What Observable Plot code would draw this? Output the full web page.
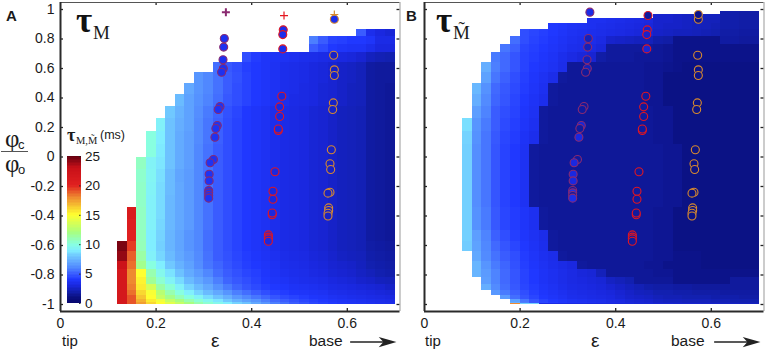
<!DOCTYPE html>
<html>
<head>
<meta charset="utf-8">
<script src="https://cdn.jsdelivr.net/npm/d3@7"></script>
<script src="https://cdn.jsdelivr.net/npm/@observablehq/plot@0.6"></script>
<style>
html,body{margin:0;padding:0;background:#fff}
#wrap{position:relative;width:765px;height:350px;overflow:hidden;background:#fff}
#wrap>div.p{position:absolute;top:0}
.t{position:absolute;white-space:nowrap;line-height:1;color:#1a1a1a;font-family:"Liberation Sans",sans-serif}
.s{font-family:"Liberation Serif",serif}
</style>
</head>
<body>
<div id="wrap">
  <div class="p" id="panelA" style="left:0"></div>
  <div class="p" id="panelB" style="left:364px"></div>
  <div class="p" id="bar" style="left:50px;top:148px"></div>

  <div class="t" style="left:6px;top:8px;font-size:15px;font-weight:bold">A</div>
  <div class="t" style="left:406px;top:8px;font-size:15px;font-weight:bold">B</div>

  <div class="t s" style="left:76px;top:3px;font-size:35px;font-weight:bold;color:#111">τ</div>
  <div class="t s" style="left:93px;top:23px;font-size:19px">M</div>
  <div class="t s" style="left:436px;top:3px;font-size:35px;font-weight:bold;color:#111">τ</div>
  <div class="t s" style="left:453px;top:23px;font-size:19px">M&#771;</div>

  <div class="t s" style="left:5px;top:126px;font-size:25px">φ</div>
  <div class="t" style="left:18px;top:138px;font-size:13px">c</div>
  <div style="position:absolute;left:1px;top:150.5px;width:27px;height:1px;background:#555"></div>
  <div class="t s" style="left:5px;top:151px;font-size:25px">φ</div>
  <div class="t" style="left:18px;top:163px;font-size:13px">o</div>

  <div class="t s" style="left:67px;top:126px;font-size:18px;font-weight:bold">τ</div>
  <div class="t s" style="left:76px;top:136px;font-size:10.5px">M,M&#771;</div>
  <div class="t" style="left:100px;top:129px;font-size:12.5px">(ms)</div>

  <div class="t" style="left:62px;top:333px;font-size:15px">tip</div>
  <div class="t" style="left:425px;top:333px;font-size:15px">tip</div>
  <div class="t" style="left:211px;top:331px;font-size:19px">ε</div>
  <div class="t" style="left:591px;top:331px;font-size:19px">ε</div>
  <div class="t" style="left:309px;top:333px;font-size:15.5px">base</div>
  <div class="t" style="left:671px;top:333px;font-size:15.5px">base</div>
</div>
<script>
// Cell boundaries
const xEdges = [0.08,0.10,0.12,0.14,0.16,0.18,0.20,0.22,0.24,0.26,0.28,0.30,0.32,0.34,0.36,0.38,0.40,0.42,0.44,0.46,0.48,0.50,0.52,0.54,0.56,0.58,0.60,0.62,0.64,0.66,0.68,0.70];

// Panel A: each row lists its cells up to the right edge, ms
const rowEdgesA = [0.866,0.819,0.766,0.707,0.643,0.574,0.5,0.423,0.342,0.259,0.173,0.087,0,-0.087,-0.173,-0.259,-0.342,-0.423,-0.5,-0.574,-0.643,-0.707,-0.766,-0.819,-0.866,-0.906,-0.94,-0.966,-0.985,-0.995,-1.003];
const tauM = [
[5,3.4,3,2.8],
[5.8,5,4.3,4.2,4,4,3.8,3.2,3.2],
[5,4.5,4,3.8,3.7,3.7,3.4,3,3],
[4.6,4.1,3.8,3.7,3.6,3.5,3.4,3.3,3.2,3.1,3,2.9,2.7,2.3,2.1,2],
[5.4,4.9,4.6,4.2,4,3.8,3.6,3.4,3.3,3.2,3,2.9,2.7,2.5,2.4,2.2,1.7,1.6,1.6],
[6.4,6,5.5,5,4.7,4.3,4,3.8,3.6,3.4,3.3,3.2,3,2.9,2.7,2.5,2.4,2.2,1.7,1.6,1.6],
[7,6.4,6,5.5,5,4.6,4.3,4,3.8,3.6,3.4,3.3,3.1,3,2.8,2.7,2.5,2.3,2.2,1.7,1.6,1.5],
[7.6,6.8,6.3,5.9,5.4,4.9,4.6,4.3,4,3.8,3.6,3.4,3.2,3.1,3,2.8,2.7,2.5,2.3,2.2,1.7,1.6,1.5],
[8,7.3,6.8,6.2,5.7,5.2,4.7,4.4,4,3.8,3.6,3.4,3.2,3.1,3,2.8,2.7,2.5,2.3,2.2,2.1,1.7,1.6,1.5],
[9.2,7.8,7.2,6.8,6.1,5.6,5.1,4.6,4.3,4,3.8,3.6,3.4,3.2,3.1,3,2.8,2.7,2.5,2.3,2.2,2.1,1.7,1.6,1.5],
[10,9,7.8,7.1,6.7,6.1,5.6,5.1,4.6,4.3,4,3.8,3.6,3.4,3.2,3.1,3,2.8,2.7,2.5,2.3,2.2,2.1,1.7,1.6,1.5],
[10,8.9,7.8,7.1,6.7,6,5.5,5,4.6,4.3,4,3.8,3.6,3.4,3.2,3.1,3,2.8,2.7,2.5,2.3,2.2,2.1,1.7,1.6,1.5],
[10.6,9.3,8.8,7.8,7.1,6.7,6,5.5,5,4.6,4.3,4,3.8,3.6,3.4,3.2,3.1,3,2.8,2.7,2.5,2.3,2.2,2.1,1.7,1.6,1.5],
[10.4,9.4,8.6,7.6,6.9,6.6,6,5.5,5,4.6,4.3,4,3.8,3.6,3.4,3.2,3.1,3,2.8,2.7,2.5,2.3,2.2,2.1,1.7,1.6,1.5],
[10.5,9.3,8.5,7.6,7,6.6,6,5.5,5,4.6,4.3,4,3.8,3.6,3.4,3.2,3.1,3,2.8,2.7,2.5,2.3,2.2,2.1,1.7,1.6,1.5],
[10.5,9.2,8.5,7.5,7,6.6,6,5.5,5,4.6,4.3,4,3.8,3.6,3.4,3.2,3.1,3,2.8,2.7,2.5,2.3,2.2,2.1,1.7,1.6,1.5],
[21,10.6,9.2,8.5,7.5,7,6.6,6,5.5,5,4.6,4.3,4,3.8,3.6,3.4,3.2,3.1,3,2.8,2.7,2.5,2.3,2.2,2.1,1.7,1.6,1.5],
[20.5,10.6,9.2,8.4,7.5,7,6.6,6,5.5,5,4.6,4.3,4,3.8,3.6,3.4,3.2,3.1,3,2.8,2.7,2.5,2.3,2.2,2.1,1.7,1.6,1.5],
[20,10.7,9,8.3,7.4,6.9,6.4,6,5.4,5,4.6,4.3,4,3.8,3.6,3.4,3.2,3.1,3,2.8,2.7,2.5,2.3,2.2,2.1,1.7,1.6,1.5],
[24.5,19.5,10.8,9,8.2,7.4,6.9,6.4,6,5.4,5,4.6,4.3,4,3.8,3.6,3.4,3.2,3.1,3,2.8,2.7,2.5,2.3,2.2,2.1,1.8,1.7,1.6],
[24,18.8,11.2,9.2,8.4,7.6,7,6.6,6.1,5.5,5,4.7,4.4,4.1,3.9,3.7,3.5,3.3,3.2,3.1,2.9,2.8,2.6,2.4,2.3,2.2,1.9,1.8,1.7],
[22.5,18.5,11.7,10,9,8,7.3,6.8,6.2,5.6,5.2,4.8,4.5,4.2,4,3.8,3.6,3.4,3.3,3.2,3,2.9,2.7,2.6,2.5,2.3,2,1.9,1.8],
[21.5,18,15,11,9.6,8.7,7.8,7.1,6.6,6,5.4,5,4.7,4.4,4.2,3.9,3.7,3.5,3.4,3.3,3.1,3,2.8,2.7,2.6,2.4,2.2,2,1.9],
[21.5,18,15.3,11.5,10.3,9.3,8.5,7.6,7,6.5,5.8,5.2,4.9,4.6,4.3,4,3.8,3.7,3.5,3.4,3.3,3.2,3,2.9,2.8,2.6,2.5,2.3,2.2],
[21.5,18.2,15.5,13.5,11.2,10.2,9.2,8.3,7.6,7,6.3,5.7,5.2,4.8,4.5,4.2,4,3.9,3.7,3.6,3.5,3.4,3.2,3.1,3,2.9,2.8,2.7,2.5],
[21.5,18.5,16,14.8,12.5,11,10,9.1,8.3,7.6,7,6.4,5.8,5.4,5,4.6,4.3,4.1,3.9,3.8,3.7,3.6,3.4,3.3,3.2,3.1,3,2.9,2.8],
[21.5,19,16.5,15,13,11.8,10.8,10,9.3,8.5,7.8,7.2,6.5,6,5.6,5.2,4.8,4.5,4.3,4.1,3.9,3.8,3.6,3.5,3.4,3.3,3.2,3.1,3],
[21.5,19,17,15.5,14.5,13,12,11,10.2,9.5,8.8,8,7.3,6.8,6.4,5.8,5.3,5,4.7,4.4,4.2,4,3.8,3.7,3.6,3.5,3.4,3.3,3.2],
[21.5,19,17.5,16,15,14,13,12,11,10.3,9.6,9,8.3,7.8,7,6.4,5.8,5.4,5,4.7,4.4,4.2,4,3.8,3.7,3.6,3.5,3.4,3.3],
[21.5,19,17.5,16,15,14,13,12,11,10.3,9.6,9,8.3,7.8,7,6.4,5.8,5.4,5,4.7,4.4,4.2,4,3.8,3.7,3.6,3.5,3.4,3.3]
];

// Panel B: same layout, ms
const rowEdgesB = [0.985,0.966,0.94,0.906,0.866,0.819,0.766,0.707,0.643,0.574,0.5,0.423,0.342,0.259,0.173,0.087,0,-0.087,-0.173,-0.259,-0.342,-0.423,-0.5,-0.574,-0.643,-0.707,-0.766,-0.819,-0.866,-0.906,-0.94,-0.966,-0.985,-0.995,-1.003];
const tauMtilde = [
[1.9,1.9,1.8,1.8],
[2.6,2.6,2.5,2.4,2.4,2.3,2.3,1.9,1.9,1.8,1.8],
[3.5,3.5,3.4,3.3,3.2,3.1,3,2.6,2.6,2.5,2.4,2.3,2.2,2.2,1.9,1.9,1.8,1.8],
[4,3.9,3.7,3.6,3.5,3.4,3.3,3.2,3.1,3,2.9,2.6,2.5,2.5,2.4,2.3,2.2,2.1,1.9,1.9,1.8,1.8],
[4.6,4.4,4.2,4,3.8,3.6,3.5,3.4,3.3,3.2,3.1,3,2.9,2.8,2.5,2.4,2.3,2.3,2.2,2.1,2,1.8,1.8,1.7,1.7],
[5.4,4.6,4.3,4.1,3.9,3.7,3.5,3.4,3.3,3.1,2.6,2.5,2.4,2.3,2.2,1.9,1.8,1.2,1.2,1.2,1.2,1.2,1.7,1.7,1.6,1.6],
[5.6,5.1,4.4,4.2,4,3.8,3.6,3.4,3.3,3.1,2.9,1.6,1.6,1.6,1.6,1.6,1.5,1.4,1.2,1.2,1.2,1.2,1.2,1.2,1.2,1.2,1.2],
[5.7,5.3,4.8,4.3,4.1,3.9,3.7,3.4,3.1,2.9,2.7,1.8,1.6,1.6,1.6,1.5,1.5,1.5,1.4,1.2,1.2,1.2,1.2,1.2,1.2,1.2,1.2,1.2],
[7.2,5.8,5.3,4.8,4.3,4,3.8,3.6,3.3,1.5,1.5,1.5,1.5,1.5,1.5,1.5,1.5,1.4,1.4,1.3,1.2,1.1,1.1,1.1,1.1,1.1,1.1,1.1,1.1],
[6.8,5.6,5.1,4.6,4.2,3.9,3.6,3.3,1.6,1.5,1.5,1.5,1.5,1.5,1.5,1.5,1.5,1.4,1.4,1.1,1.1,1.1,1.1,1.1,1.1,1.1,1.1,1.1,1.1],
[7.5,6.3,5.3,4.9,4.5,4.1,3.8,3.5,1.6,1.5,1.5,1.5,1.5,1.5,1.5,1.5,1.5,1.5,1.4,1.4,1.1,1.1,1.1,1.1,1.1,1.1,1.1,1.1,1.1,1.1],
[7.2,6.1,5.2,4.8,4.4,4,3.7,3.4,1.6,1.5,1.5,1.5,1.5,1.5,1.5,1.5,1.5,1.5,1.4,1.4,1.1,1.1,1.1,1.1,1.1,1.1,1.1,1.1,1.1,1.1],
[6.7,5.9,5,4.6,4.3,3.9,3.6,1.6,1.5,1.5,1.5,1.5,1.5,1.5,1.5,1.5,1.5,1.5,1.5,1.4,1.4,1.1,1.1,1.1,1.1,1.1,1.1,1.1,1.1,1.1],
[8.6,6.4,5.7,5,4.5,4.2,3.8,3.5,1.6,1.5,1.5,1.5,1.5,1.5,1.5,1.5,1.5,1.5,1.5,1.5,1.4,1.4,1.1,1.1,1.1,1.1,1.1,1.1,1.1,1.1,1.1],
[8.3,6.3,5.6,4.9,4.4,4.1,3.7,3.4,1.6,1.5,1.5,1.5,1.5,1.5,1.5,1.5,1.5,1.5,1.5,1.5,1.4,1.4,1.1,1.1,1.1,1.1,1.1,1.1,1.1,1.1,1.1],
[8.2,6.2,5.6,4.8,4.3,4,3.6,1.6,1.5,1.5,1.5,1.5,1.5,1.5,1.5,1.5,1.5,1.5,1.5,1.5,1.5,1.4,1.4,1.1,1.1,1.1,1.1,1.1,1.1,1.1,1.1],
[8.2,6.2,5.6,4.8,4.3,4,3.6,1.6,1.5,1.5,1.5,1.5,1.5,1.5,1.5,1.5,1.5,1.5,1.5,1.5,1.5,1.4,1.4,1.1,1.1,1.1,1.1,1.1,1.1,1.1,1.1],
[8.2,6.2,5.6,4.8,4.3,4,3.6,1.6,1.5,1.5,1.5,1.5,1.5,1.5,1.5,1.5,1.5,1.5,1.5,1.5,1.5,1.4,1.4,1.1,1.1,1.1,1.1,1.1,1.1,1.1,1.1],
[8.2,6.2,5.6,4.8,4.3,4,3.6,1.6,1.5,1.5,1.5,1.5,1.5,1.5,1.5,1.5,1.5,1.5,1.5,1.5,1.5,1.4,1.4,1.1,1.1,1.1,1.1,1.1,1.1,1.1,1.1],
[8.2,6.2,5.6,4.8,4.3,4,3.6,1.6,1.5,1.5,1.5,1.5,1.5,1.5,1.5,1.5,1.5,1.5,1.5,1.5,1.5,1.4,1.4,1.1,1.1,1.1,1.1,1.1,1.1,1.1,1.1],
[8.2,6.3,5.7,4.9,4.4,4.1,3.8,3.5,1.6,1.5,1.5,1.5,1.5,1.5,1.5,1.5,1.5,1.5,1.5,1.5,1.4,1.4,1.1,1.1,1.1,1.1,1.1,1.1,1.1,1.1,1.1],
[8.2,6.3,5.7,4.9,4.4,4.1,3.8,3.5,1.6,1.5,1.5,1.5,1.5,1.5,1.5,1.5,1.5,1.5,1.5,1.5,1.4,1.4,1.1,1.1,1.1,1.1,1.1,1.1,1.1,1.1,1.1],
[8.2,6.7,5.9,5.1,4.6,4.2,3.9,3.6,3.3,1.6,1.5,1.5,1.5,1.5,1.5,1.5,1.5,1.5,1.5,1.5,1.4,1.4,1.1,1.1,1.1,1.1,1.1,1.1,1.1,1.1,1.1],
[8.1,6.8,6,5.3,4.8,4.4,4,3.7,3.4,1.6,1.5,1.5,1.5,1.5,1.5,1.5,1.5,1.5,1.5,1.5,1.4,1.4,1.1,1.1,1.1,1.1,1.1,1.1,1.1,1.1,1.1],
[7,6.1,5.5,5,4.6,4.1,3.8,3.5,3.3,1.6,1.5,1.5,1.5,1.5,1.5,1.5,1.5,1.5,1.5,1.4,1.4,1.2,1.2,1.2,1.1,1.1,1.1,1.1,1.1,1.1],
[7.4,6.4,5.7,5.2,4.7,4.2,3.9,3.6,3.4,3.2,3,1.6,1.5,1.5,1.5,1.5,1.5,1.5,1.4,1.4,1.2,1.2,1.2,1.2,1.1,1.1,1.1,1.1,1.1,1.1],
[7.4,6.6,5.9,5.3,4.8,4.3,4,3.7,3.5,3.3,3.1,2.9,2.8,2.2,1.5,1.5,1.5,1.5,1.5,1.4,1.4,1.2,1.2,1.2,1.2,1.2,1.2,1.2,1.2,1.2],
[6.7,5.9,5.3,4.8,4.3,4,3.7,3.5,3.3,3.1,3,2.9,2.8,2.4,2.2,2,1.5,1.5,1.5,1.5,1.2,1.2,1.2,1.2,1.2,1.2,1.6,1.6,1.6],
[7.2,6.1,5.4,4.9,4.4,4.1,3.8,3.6,3.4,3.2,3.1,3,2.9,2.7,2.5,2.3,2.1,1.9,1.8,1.8,1.7,1.7,1.6,1.6,1.6,1.6,1.6,1.6,1.6],
[6.5,5.7,5.1,4.6,4.2,3.9,3.7,3.5,3.3,3.2,3.1,3,2.9,2.7,2.5,2.3,2.2,2,2,1.9,1.9,1.8,1.8,1.8,1.7,1.7,1.7,1.7],
[6.6,5.4,4.8,4.4,4,3.8,3.6,3.4,3.3,3.2,3.1,3,2.8,2.6,2.5,2.4,2.2,2.1,2.1,2,2,2,1.9,1.9,1.9,1.8,1.8],
[6.8,5.6,4.8,4.3,4,3.8,3.6,3.5,3.4,3.3,3.1,3,2.8,2.7,2.6,2.4,2.3,2.3,2.2,2.2,2.2,2.1,2.1,2,2,2],
[7.2,5.8,4.9,4.4,4.1,3.9,3.7,3.6,3.5,3.4,3.2,3.1,2.9,2.8,2.7,2.5,2.4,2.4,2.3,2.3,2.3,2.2,2.2,2.1,2.1,2.1],
[18,8.2,8.2,3.2,3.2,3.2,3.1,3.1,3,3,3,2.9,2.9,2.8,2.8,2.7,2.7,2.6,2.6,2.6,2.5,2.5,2.4,2.4,2.3,2.3]
];

// Measured sites
const site1X = [0.3427,0.3414,0.340,0.3406,0.337,0.3337,0.330,0.328,0.325,0.323,0.320,0.313,0.311,0.311,0.310,0.310,0.310,0.310];
const site1Y = [0.803,0.745,0.659,0.600,0.575,0.342,0.322,0.214,0.193,0.134,-0.017,-0.039,-0.117,-0.162,-0.227,-0.243,-0.261,-0.279];
const site1TauA = [3.5,3.5,3.5,3.5,3.5,3.6,3.6,3.6,3.6,3.6,3.6,3.6,3.6,3.6,3.6,3.6,3.6,3.6];
const site1TauB = [2.2,2.2,2.2,2.2,1.6,1.6,1.6,2.8,1.6,3,1.6,3,3,3,1.6,3.3,1.6,3.3];
const site2X = [0.466,0.465,0.465,0.463,0.4585,0.4585,0.4557,0.4557,0.4487,0.4445,0.4445,0.443,0.443,0.4348,0.4348,0.4348,0.4348];
const site2Y = [0.862,0.83,0.733,0.412,0.340,0.275,0.18,0.19,-0.10,-0.232,-0.286,-0.392,-0.38,-0.528,-0.543,-0.555,-0.571];
const site2TauA = [3.4,3.4,3.4,3,3,3,3,3,3,3,3,3,3,3,3,3,3];
const site2TauB = [2.6,2.6,2.8,1.6,1.6,1.6,1.6,1.6,1.6,1.6,1.6,1.6,1.6,1.6,1.6,1.6,1.6];
const site3X = [0.5729,0.5715,0.5729,0.5729,0.5708,0.5694,0.5666,0.5638,0.5652,0.5638,0.5596,0.561,0.561,0.5596,0.5596];
const site3Y = [0.934,0.69,0.591,0.553,0.367,0.322,0.049,-0.046,-0.085,-0.239,-0.245,-0.345,-0.363,-0.381,-0.40];
const site3TauA = [3.4,2.5,2.5,2.5,2.5,2.5,2.5,2.5,2.5,2.5,2.5,2.5,2.5,2.5,2.5];
const site3TauB = [1.2,1.2,1.2,1.2,1.1,1.1,1.1,1.1,1.1,1.1,1.1,1.1,1.1,1.1,1.1];

// Sites above the map in panel A (plus signs) and their circles in panel B
const topSiteX = [0.346,0.4676,0.5729];
const topSiteY = [0.982,0.959,0.966];
const topSiteTauB = [3.2,1.6,1.2];

const purple = "#8a2a70", red = "#e4161f", orange = "#d98a2e";
const siteColors = [purple, red, orange];

const colorDomain = [0,1,1.5,2,2.5,3,4,5,6,7,8,9,10,12,15,18,20,23,25];
const colorRange = ["#06066e","#0a1080","#0f1898","#1220b0","#1622c8","#1a28e0","#2038ff","#3a5cff","#5088ff","#62a8ff","#70c8ff","#80eeff","#88ffe0","#a8ff80","#ffff30","#ee8a30","#e02020","#c81018","#600010"];
const colorOpts = {type:"linear",domain:colorDomain,range:colorRange,clamp:true,interpolate:"rgb"};

const xTicks = [0,0.2,0.4,0.6];
const yTicks = [-1,-0.8,-0.6,-0.4,-0.2,0,0.2,0.4,0.6,0.8,1];
const barTicks = [0,5,10,15,20,25];

const cells = (rows, edges) => rows.flatMap((r,i) => r.map((tau,k) => {
  const c = xEdges.length - 1 - r.length + k;
  return {x1:xEdges[c], x2:xEdges[c+1], y1:edges[i+1], y2:edges[i], tau};
}));
const sites = (xs, ys, taus, g) => xs.map((x,i) => ({x, y:ys[i], tau:taus[i], g}));

const W = 400, H = 350, mL = 60, mR = 0.5, mT = 2, mB = 39;
const xMax = (W - mL - mR) / 478, yLim = 1.0475;
const tickX = 3 / 478, tickY = 3 / 147.5;
const font = {fontFamily:'"Liberation Sans",sans-serif',fontSize:"14px",color:"#1a1a1a"};

function panel(rows, edges, points, showY, extra){
  return Plot.plot({
    width:W, height:H, marginLeft:mL, marginRight:mR, marginTop:mT, marginBottom:mB,
    style:{...font,background:"transparent",overflow:"visible"},
    x:{domain:[0,xMax],label:null},
    y:{domain:[-yLim,yLim],label:null,axis:showY?undefined:null},
    color:colorOpts,
    marks:[
      Plot.rect(cells(rows,edges),{x1:"x1",x2:"x2",y1:"y1",y2:"y2",fill:"tau",shapeRendering:"crispEdges"}),
      ...extra,
      ...points.map(g => Plot.dot(g,{x:"x",y:"y",r:4,fill:"tau",stroke:d=>siteColors[d.g],strokeWidth:1.1})),
      Plot.ruleX(xTicks.slice(1),{x:d=>d,y1:-yLim,y2:-yLim+tickY,stroke:"#222",strokeWidth:1.3}),
      Plot.ruleX(xTicks.slice(1),{x:d=>d,y1:yLim,y2:yLim-tickY,stroke:"#222",strokeWidth:1.3}),
      Plot.ruleY(yTicks,{y:d=>d,x1:0,x2:tickX,stroke:"#222",strokeWidth:1.3}),
      Plot.ruleY(yTicks,{y:d=>d,x1:xMax,x2:xMax-tickX,stroke:"#222",strokeWidth:1.3}),
      Plot.ruleY([yLim],{stroke:"#555",strokeWidth:1.2}),
      Plot.ruleX([xMax],{stroke:"#999",strokeWidth:1}),
      Plot.ruleY([-yLim],{stroke:"#2a2a2a",strokeWidth:2}),
      Plot.ruleX([0],{stroke:"#2a2a2a",strokeWidth:2}),
      Plot.axisX({anchor:"bottom",ticks:xTicks,tickSize:0,tickPadding:7,tickFormat:d=>String(d),label:null}),
      showY ? Plot.axisY({anchor:"left",ticks:yTicks,tickSize:0,tickPadding:6,tickFormat:d=>String(d),label:null}) : null,
      // "base" arrow
      Plot.ruleY([-1.255],{x1:0.607,x2:0.69,stroke:"#222",strokeWidth:1.5,clip:false}),
      Plot.dot([0],{x:()=>0.688,y:()=>-1.255,r:8,fill:"#222",stroke:"none",symbol:{draw(c,s){const a=Math.sqrt(s);c.moveTo(a*0.5,0);c.lineTo(-a*0.75,-a*0.36);c.lineTo(-a*0.42,0);c.lineTo(-a*0.75,a*0.36);c.closePath();}}})
    ]
  });
}

const pointsA = [
  sites(site1X,site1Y,site1TauA,0),
  sites(site2X,site2Y,site2TauA,1),
  sites(site3X,site3Y,site3TauA,2)
];
const pointsB = [
  sites(site1X,site1Y,site1TauB,0),
  sites(site2X,site2Y,site2TauB,1),
  sites(site3X,site3Y,site3TauB,2),
  sites(topSiteX,topSiteY,topSiteTauB,0).map((d,i)=>({...d,g:i}))
];
const plusMarks = [
  Plot.dot(topSiteX.map((x,i)=>({x,y:topSiteY[i],g:i})),{x:"x",y:"y",symbol:"plus",r:2.7,stroke:d=>siteColors[d.g],strokeWidth:d=>d.g===0?2:1.2})
];

document.getElementById("panelA").append(panel(tauM,rowEdgesA,pointsA,true,plusMarks));
document.getElementById("panelB").append(panel(tauMtilde,rowEdgesB,pointsB,false,[]));

// Colour bar
const barSteps = d3.range(0,25,0.25);
document.getElementById("bar").append(Plot.plot({
  width:60, height:163, marginLeft:16.5, marginRight:29.5, marginTop:8, marginBottom:8,
  style:{...font,fontSize:"13.5px",background:"transparent",overflow:"visible"},
  x:{axis:null,domain:[0,1]},
  y:{domain:[0,25],label:null},
  color:colorOpts,
  marks:[
    Plot.rect(barSteps,{x1:0,x2:1,y1:d=>d,y2:d=>d+0.25,fill:d=>d+0.125,shapeRendering:"crispEdges"}),
    Plot.ruleY(barTicks,{y:d=>d,x1:0.9,x2:1,stroke:"#222"}),
    Plot.axisY({anchor:"right",ticks:barTicks,tickSize:0,tickPadding:4,tickFormat:d=>String(d),label:null})
  ]
}));
</script>
</body>
</html>
